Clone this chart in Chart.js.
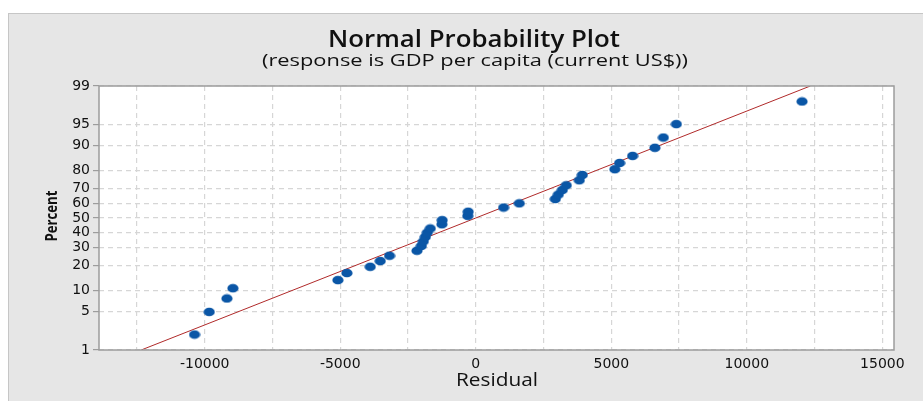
<!DOCTYPE html>
<html>
<head>
<meta charset="utf-8">
<script src="https://cdn.jsdelivr.net/npm/chart.js@4.4.0/dist/chart.umd.min.js"></script>
<style>
  html, body { margin: 0; padding: 0; background: #fff; }
</style>
</head>
<body>
<canvas id="npp" width="923" height="401"></canvas>
<script>
// residuals (sorted) and their plotting percent
let residuals = [-10376, -9834, -9181, -8960, -5085, -4753, -3893, -3524, -3181,
    -2170, -2011, -1937, -1863, -1790, -1679, -1250, -1240, -295, -280,
    1026, 1605, 2934, 3044, 3192, 3339, 3819, 3930, 5130, 5306, 5786,
    6610, 6920, 7399, 12037];
let percents = [2.0, 4.9, 7.8, 10.8, 13.7, 16.6, 19.5, 22.4, 25.3,
    28.2, 31.1, 34.0, 36.9, 39.8, 42.7, 45.6, 48.5, 51.5, 54.4,
    57.3, 60.2, 63.1, 66.0, 68.9, 71.8, 74.7, 77.6, 80.5, 83.4, 86.3,
    89.2, 92.2, 95.1, 98.0];

// fitted normal line, two ends
let fitX = [-12343, 12343];
let fitPct = [1, 99];

// axis ticks
let pctTicks = [1, 5, 10, 20, 30, 40, 50, 60, 70, 80, 90, 95, 99];
let xGrid = [-12500, -10000, -7500, -5000, -2500, 0, 2500, 5000, 7500, 10000, 12500, 15000];

// inverse normal cdf (Acklam) - used as the probability scale
function probit(p) {
    const a = [-3.969683028665376e+01, 2.209460984245205e+02, -2.759285104469687e+02, 1.383577518672690e+02, -3.066479806614716e+01, 2.506628277459239e+00];
    const b = [-5.447609879822406e+01, 1.615858368580409e+02, -1.556989798598866e+02, 6.680131188771972e+01, -1.328068155288572e+01];
    const c = [-7.784894002430293e-03, -3.223964580411365e-01, -2.400758277161838e+00, -2.549732539343734e+00, 4.374664141464968e+00, 2.938163982698783e+00];
    const d = [7.784695709041462e-03, 3.224671290700398e-01, 2.445134137142996e+00, 3.754408661907416e+00];
    const pl = 0.02425;
    let q, r;
    if (p < pl) {
        q = Math.sqrt(-2 * Math.log(p));
        return (((((c[0] * q + c[1]) * q + c[2]) * q + c[3]) * q + c[4]) * q + c[5]) / ((((d[0] * q + d[1]) * q + d[2]) * q + d[3]) * q + 1);
    }
    if (p > 1 - pl) {
        q = Math.sqrt(-2 * Math.log(1 - p));
        return -(((((c[0] * q + c[1]) * q + c[2]) * q + c[3]) * q + c[4]) * q + c[5]) / ((((d[0] * q + d[1]) * q + d[2]) * q + d[3]) * q + 1);
    }
    q = p - 0.5;
    r = q * q;
    return (((((a[0] * r + a[1]) * r + a[2]) * r + a[3]) * r + a[4]) * r + a[5]) * q / (((((b[0] * r + b[1]) * r + b[2]) * r + b[3]) * r + b[4]) * r + 1);
}

// oval marker like minitab's
let dot = document.createElement('canvas');
dot.width = 12;
dot.height = 10;
let dc = dot.getContext('2d');
dc.fillStyle = '#0a56a6';
dc.beginPath();
dc.ellipse(6, 5, 5.6, 4.3, 0, 0, Math.PI * 2);
dc.fill();

let points = residuals.map((x, i) => ({x: x, y: probit(percents[i] / 100)}));
let fitLine = fitX.map((x, i) => ({x: x, y: probit(fitPct[i] / 100)}));

// the source picture is stretched sideways, so stretch text to its width
function wideText(ctx, txt, cx, cy, font, width) {
    ctx.save();
    ctx.font = font;
    let w = ctx.measureText(txt).width;
    ctx.translate(cx, cy);
    ctx.scale(width / w, 1);
    ctx.fillText(txt, 0, 0);
    ctx.restore();
}

// background, frame and texts
const decor = {
    id: 'decor',
    beforeDraw(chart) {
        const ctx = chart.ctx, a = chart.chartArea;
        ctx.save();
        ctx.fillStyle = '#fff';
        ctx.fillRect(0, 0, chart.width, chart.height);
        ctx.fillStyle = '#e6e6e6';
        ctx.fillRect(8, 13, chart.width - 8, chart.height - 13);
        ctx.strokeStyle = '#c6c6c6';
        ctx.lineWidth = 1;
        ctx.strokeRect(8.5, 13.5, chart.width, chart.height);
        ctx.fillStyle = '#fff';
        ctx.fillRect(a.left, a.top, a.right - a.left, a.bottom - a.top);
        ctx.restore();
    },
    afterDraw(chart) {
        const ctx = chart.ctx, a = chart.chartArea;
        ctx.save();
        ctx.strokeStyle = '#9c9c9c';
        ctx.lineWidth = 1.5;
        ctx.strokeRect(a.left, a.top, a.right - a.left, a.bottom - a.top);

        ctx.fillStyle = '#111';
        ctx.textAlign = 'center';
        ctx.textBaseline = 'middle';
        wideText(ctx, 'Normal Probability Plot', 474, 40, '600 23px "Open Sans"', 292);
        wideText(ctx, '(response is GDP per capita (current US$))', 475, 61, '17px "Open Sans"', 426);
        wideText(ctx, 'Residual', 497, 381, '18px "Open Sans"', 82);

        ctx.translate(52, 216);
        ctx.rotate(-Math.PI / 2);
        ctx.font = 'bold 16px "Open Sans"';
        ctx.fillText('Percent', 0, 0, 51);
        ctx.restore();
    }
};

let ctx = document.getElementById('npp');

let myChart = new Chart(ctx, {
    type: 'scatter',
    data: {
        datasets: [{
            data: points,
            pointStyle: dot,
            pointRadius: 5,
            order: 0
        }, {
            data: fitLine,
            showLine: true,
            borderColor: '#b02a2a',
            borderWidth: 1,
            pointRadius: 0,
            order: 1
        }]
    },
    options: {
        responsive: false,
        animation: false,
        layout: {padding: {left: 0, top: 86, right: 29, bottom: 0}},
        plugins: {legend: {display: false}, tooltip: {enabled: false}},
        scales: {
            x: {
                type: 'linear',
                min: -13900,
                max: 15430,
                afterBuildTicks: (s) => { s.ticks = xGrid.map(v => ({value: v})); },
                afterFit: (s) => { s.height = 51; },
                grid: {color: '#d6d6d6', lineWidth: 1.2, tickLength: 4, tickColor: 'rgba(0,0,0,0)'},
                border: {display: false, dash: [5, 4]},
                ticks: {
                    padding: 2,
                    color: '#111',
                    font: {family: 'DejaVu Sans', size: 14},
                    maxRotation: 0,
                    autoSkip: false,
                    callback: (v) => (v % 5000 === 0 ? String(v) : '')
                }
            },
            y: {
                type: 'linear',
                min: probit(0.01),
                max: probit(0.99),
                afterBuildTicks: (s) => { s.ticks = pctTicks.map(p => ({value: probit(p / 100)})); },
                afterFit: (s) => { s.width = 99; },
                grid: {color: '#d6d6d6', lineWidth: 1.2, tickLength: 6, tickColor: '#9c9c9c', tickBorderDash: []},
                border: {display: false, dash: [5, 4]},
                ticks: {
                    padding: 3,
                    color: '#111',
                    font: {family: 'DejaVu Sans', size: 14},
                    autoSkip: false,
                    callback: (v, i) => String(pctTicks[i])
                }
            }
        }
    },
    plugins: [decor]
});
</script>
</body>
</html>
